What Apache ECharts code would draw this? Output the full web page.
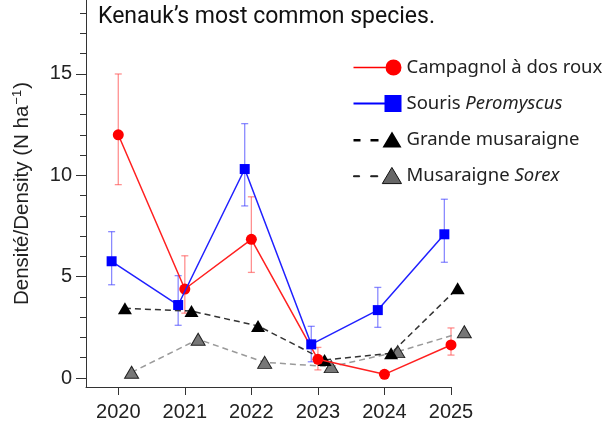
<!DOCTYPE html>
<html>
<head>
<meta charset="utf-8">
<script src="https://cdn.jsdelivr.net/npm/echarts@6/dist/echarts.min.js"></script>
<style>
  html, body { margin: 0; padding: 0; background: #fff; }
  #chart { width: 606px; height: 423px; }
</style>
</head>
<body>
<div id="chart"></div>
<script>
// years surveyed
const years = [2020, 2021, 2022, 2023, 2024, 2025];

// Campagnol à dos roux (red)
const campagnol = [12.0, 4.39, 6.84, 0.92, 0.18, 1.63];
const campagnolLow = [9.54, 3.2, 5.21, 0.4, 0.1, 1.13];
const campagnolHigh = [15.0, 6.03, 8.94, 1.51, 0.26, 2.47];

// Souris Peromyscus (blue)
const peromyscus = [5.76, 3.6, 10.31, 1.66, 3.35, 7.09];
const peromyscusLow = [4.6, 2.6, 8.49, 0.8, 2.5, 5.71];
const peromyscusHigh = [7.22, 5.05, 12.55, 2.55, 4.47, 8.82];

// Grande musaraigne (black) and Musaraigne Sorex (grey)
const grande = [3.44, 3.3, 2.57, 0.89, 1.22, 4.43];
const sorex = [0.28, 1.91, 0.77, 0.56, 1.3, 2.28];

// axis ticks
const xTicks = [2020, 2021, 2022, 2023, 2024, 2025];
const yTicks = [0, 5, 10, 15];
const yMinorTicks = [1, 2, 3, 4, 6, 7, 8, 9, 11, 12, 13, 14, 16, 17, 18];

const names = ['Campagnol à dos roux', 'Souris Peromyscus', 'Grande musaraigne', 'Musaraigne Sorex'];

// small horizontal shifts so the markers don't sit on top of each other
const shift = { blue: -0.1, red: 0, black: 0.1, grey: 0.2 };

const pts = (vals, dx) => years.map((y, i) => [y + dx, vals[i]]);
const bars = (lo, hi, dx) => years.map((y, i) => [y + dx, lo[i], hi[i]]);

function errBar(color) {
  return function (params, api) {
    const x = api.value(0);
    const top = api.coord([x, api.value(2)]);
    const bot = api.coord([x, api.value(1)]);
    const w = 3.5;
    const st = { stroke: color, lineWidth: 1.3 };
    return {
      type: 'group',
      children: [
        { type: 'line', shape: { x1: top[0], y1: top[1], x2: bot[0], y2: bot[1] }, style: st },
        { type: 'line', shape: { x1: top[0] - w, y1: top[1], x2: top[0] + w, y2: top[1] }, style: st },
        { type: 'line', shape: { x1: bot[0] - w, y1: bot[1], x2: bot[0] + w, y2: bot[1] }, style: st }
      ]
    };
  };
}

// legend icons: line/dashes + marker at the right end
const iconRed = 'path://M0,7.25L32,7.25L32,8.75L0,8.75Z M32,8A8,8 0 1,0 48,8A8,8 0 1,0 32,8Z';
const iconBlue = 'path://M0,7.5L31,7.5L31,9.5L0,9.5Z M31,0L48,0L48,17L31,17Z';
const iconTri = 'path://M0,7.5L7,7.5L7,10L0,10Z M17,7.5L25,7.5L25,10L17,10Z M29,16L38.5,0L48,16Z';
const iconTriGrey = 'path://M0.5,8.3L6.5,8.3L6.5,9.2L0.5,9.2Z M17.5,8.3L24.5,8.3L24.5,9.2L17.5,9.2Z M29,16L38.5,0L48,16Z';

const chart = echarts.init(document.getElementById('chart'));

const option = {
  animation: false,
  backgroundColor: '#fff',
  title: {
    text: 'Kenauk’s most common species.',
    left: 93,
    top: 1,
    textStyle: { fontFamily: 'Roboto', fontSize: 23, fontWeight: 'normal', color: '#111' }
  },
  legend: {
    orient: 'vertical',
    left: 348,
    top: 53,
    itemWidth: 48,
    itemHeight: 18,
    itemGap: 17,
    data: [
      { name: names[0], icon: iconRed },
      { name: names[1], icon: iconBlue },
      { name: names[2], icon: iconTri },
      { name: names[3], icon: iconTriGrey, itemStyle: { color: '#666', borderColor: '#111', borderWidth: 1 } }
    ],
    formatter: function (name) {
      if (name === names[1]) return '{n|Souris }{i|Peromyscus}';
      if (name === names[3]) return '{n|Musaraigne }{i|Sorex}';
      return '{n|' + name + '}';
    },
    textStyle: {
      color: '#222',
      rich: {
        n: { fontFamily: 'Noto Sans', fontSize: 18.5, color: '#222', lineHeight: 19 },
        i: { fontFamily: 'Noto Sans', fontSize: 18.5, fontStyle: 'italic', color: '#222', lineHeight: 19 }
      }
    }
  },
  grid: { left: 86, right: 155, top: 0, bottom: 36, containLabel: false },
  xAxis: {
    type: 'value',
    min: 2019.515,
    max: 2025,
    splitLine: { show: false },
    axisLine: { show: true, onZero: false, lineStyle: { color: '#333', width: 1 } },
    axisTick: { show: true, customValues: xTicks, length: 8, lineStyle: { color: '#333' } },
    axisLabel: {
      customValues: xTicks,
      margin: 15,
      fontFamily: 'Liberation Sans',
      fontSize: 20,
      color: '#222',
      formatter: v => String(v)
    }
  },
  yAxis: [
    {
      type: 'value',
      min: -0.444,
      max: 18.65,
      splitLine: { show: false },
      axisLine: { show: true, onZero: false, lineStyle: { color: '#333', width: 1 } },
      axisTick: { show: true, customValues: yTicks, length: 10, lineStyle: { color: '#333' } },
      axisLabel: {
        customValues: yTicks,
        margin: 14,
        fontFamily: 'Liberation Sans',
        fontSize: 20,
        color: '#222'
      },
      name: '{a|Densité/Density (N ha}{s|−1}{a|)}',
      nameLocation: 'middle',
      nameGap: 52,
      nameTextStyle: {
        rich: {
          a: { fontFamily: 'Liberation Sans', fontSize: 20.5, color: '#222' },
          s: { fontFamily: 'Liberation Sans', fontSize: 13, color: '#222', padding: [0, 1, 10, 1] }
        }
      }
    },
    {
      type: 'value',
      position: 'left',
      min: -0.444,
      max: 18.65,
      splitLine: { show: false },
      axisLine: { show: false },
      axisLabel: { show: false },
      axisTick: { show: true, customValues: yMinorTicks, length: 6, lineStyle: { color: '#333' } }
    }
  ],
  series: [
    {
      type: 'custom',
      renderItem: errBar('rgba(255,70,70,0.6)'),
      data: bars(campagnolLow, campagnolHigh, shift.red),
      clip: false,
      silent: true,
      z: 1
    },
    {
      type: 'custom',
      renderItem: errBar('rgba(60,60,255,0.6)'),
      data: bars(peromyscusLow, peromyscusHigh, shift.blue),
      clip: false,
      silent: true,
      z: 1
    },
    {
      name: names[3],
      type: 'line',
      data: pts(sorex, shift.grey),
      symbol: 'triangle',
      symbolSize: [14, 12],
      clip: false,
      lineStyle: { color: '#9a9a9a', width: 1.5, type: [6, 4] },
      itemStyle: { color: '#777', borderColor: '#222', borderWidth: 1 },
      z: 2
    },
    {
      name: names[2],
      type: 'line',
      data: pts(grande, shift.black),
      symbol: 'triangle',
      symbolSize: [14, 12],
      clip: false,
      lineStyle: { color: '#333', width: 1.5, type: [6, 4] },
      itemStyle: { color: '#000' },
      z: 3
    },
    {
      name: names[0],
      type: 'line',
      data: pts(campagnol, shift.red),
      symbol: 'circle',
      symbolSize: 11,
      clip: false,
      lineStyle: { color: '#ff2020', width: 1.5 },
      itemStyle: { color: '#ff0000' },
      z: 4
    },
    {
      name: names[1],
      type: 'line',
      data: pts(peromyscus, shift.blue),
      symbol: 'rect',
      symbolSize: 10,
      clip: false,
      lineStyle: { color: '#2020ff', width: 1.5 },
      itemStyle: { color: '#0000ff' },
      z: 5
    }
  ]
};

chart.setOption(option);
</script>
</body>
</html>
